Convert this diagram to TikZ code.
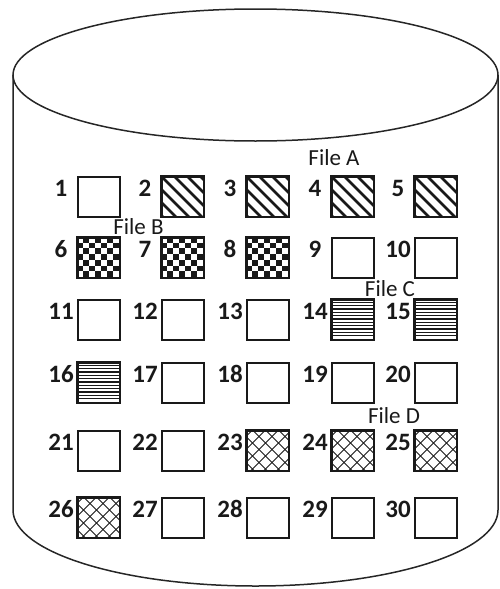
\documentclass[tikz,border=0pt]{standalone}
\usepackage{fontspec}
\setmainfont{Carlito}
\begin{document}
\begin{tikzpicture}[x=1pt,y=-1pt,
  cyl/.style={draw=black!85, line width=1.5pt},
  cell/.style={draw=black!90, line width=1.6pt, minimum width=42pt, minimum height=40pt, inner sep=0pt, anchor=north west},
  frame/.style={draw=black!90, line width=1.6pt},
  numlbl/.style={font=\fontsize{25}{25}\selectfont\bfseries, text=black!90, anchor=base, inner sep=0pt},
  filelbl/.style={font=\fontsize{23}{23}\selectfont, text=black!90, anchor=base, inner sep=0pt}]
\useasboundingbox (0,0) rectangle (499,589);
% cylinder
\draw[cyl] (255.5,75) ellipse [x radius=242.5pt, y radius=66pt];
\draw[cyl] (13,75) -- (13,510) arc[start angle=180, end angle=360, x radius=242.5pt, y radius=76pt] -- (498,75);
% blocks
\foreach \r/\yy in {0/176,1/237,2/299,3/362,4/430,5/497} {
  \foreach \c/\xx in {0/77,1/161,2/246,3/331,4/414} {
    \pgfmathtruncatemacro\n{\r*5+\c+1}
    \node[cell] (b\n) at (\xx,\yy) {};
    \node[numlbl] (n\n) at (\xx-16,\yy+20) {\n};
  }
}
% File A: thick diagonal stripes
\foreach \n in {2,3,4,5} {
  \begin{scope}[shift={(b\n.north west)}]
    \clip (0,0) rectangle (42,40);
    \foreach \k in {-4,...,4} \draw[line width=2.8pt, black!90] (\k*13,0) -- ++(50,50);
  \end{scope}
  \draw[frame] (b\n.north west) rectangle (b\n.south east);
}
% File B: checkerboard
\foreach \n in {6,7,8} {
  \begin{scope}[shift={(b\n.north west)}]
    \clip (0,0) rectangle (42,40);
    \foreach \i in {0,...,6} \foreach \j in {0,...,6} {
      \pgfmathtruncatemacro\p{mod(\i+\j,2)}
      \ifnum\p=1 \fill[black!90] (\i*6,\j*5.714) rectangle ++(6,5.714); \fi }
  \end{scope}
  \draw[frame] (b\n.north west) rectangle (b\n.south east);
}
% File C: horizontal lines
\foreach \n in {14,15,16} {
  \begin{scope}[shift={(b\n.north west)}]
    \clip (0,0) rectangle (42,40);
    \foreach \k in {1,...,11} \draw[line width=1.1pt, black!90] (0,\k*3.33) -- ++(42,0);
  \end{scope}
  \draw[frame] (b\n.north west) rectangle (b\n.south east);
}
% File D: crosshatch
\foreach \n in {23,24,25,26} {
  \begin{scope}[shift={(b\n.north west)}]
    \clip (0,0) rectangle (42,40);
    \foreach \k in {-4,...,7} {
      \draw[line width=0.9pt, black!90] (\k*13+6.5,0) -- ++(50,50);
      \draw[line width=0.9pt, black!90] (\k*13+6.5,0) -- ++(-50,50);}
  \end{scope}
  \draw[frame] (b\n.north west) rectangle (b\n.south east);
}
% file labels
\node[filelbl] (fA) at (334,165) {File A};
\node[filelbl] (fB) at (138.5,234) {File B};
\node[filelbl] (fC) at (390,296) {File C};
\node[filelbl] (fD) at (394,423) {File D};
\end{tikzpicture}
\end{document}
